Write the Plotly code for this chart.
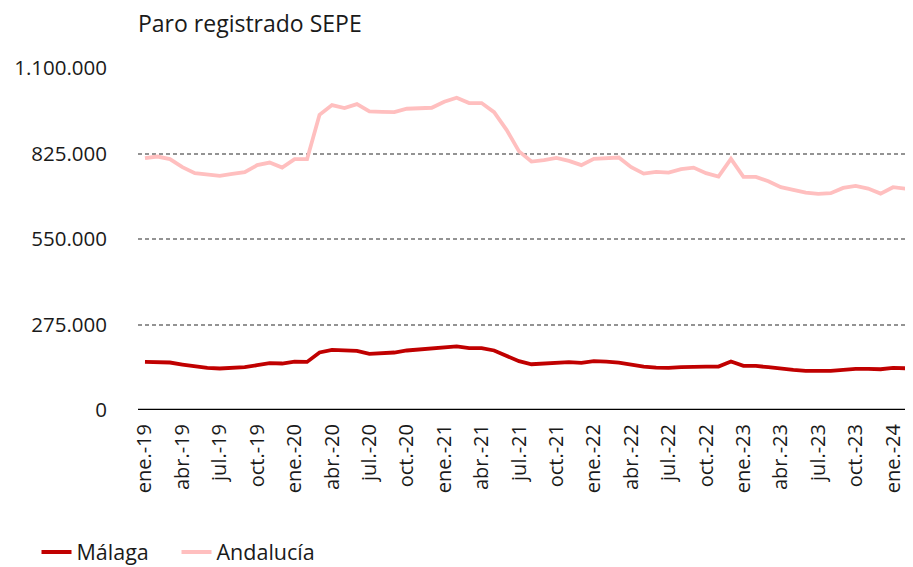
import plotly.graph_objects as go

months = ["ene.", "feb.", "mar.", "abr.", "may.", "jun.", "jul.", "ago.", "sep.", "oct.", "nov.", "dic."]
categories = [f"{m}-{y:02d}" for y in range(19, 25) for m in months][:63]

malaga = [
    154700, 154700, 152700, 146300, 139800, 135300, 133400, 135300, 137600, 144000, 150500, 149500,
    155900, 154700, 184900, 193300, 192400, 190100, 180400, 181700, 184900, 191400, 194600, 196500,
    202000, 204300, 198800, 198800, 191400, 173000, 157000, 147200, 149500, 152700, 153700, 151400,
    156900, 155900, 152700, 146300, 139800, 136600, 135300, 137600, 139800, 139800, 139800, 155900,
    141800, 141800, 137600, 132100, 128900, 125700, 124700, 125700, 128900, 132100, 132100, 131100,
    135300, 134400, 133000,
]
andalucia = [
    810000, 815200, 806800, 781000, 761700, 758500, 753000, 759400, 764900, 787500, 795800, 779700,
    806800, 806800, 949500, 980800, 971100, 984000, 960200, 959200, 958200, 968900, 969800, 972100,
    991400, 1004300, 987200, 987200, 958200, 901200, 831900, 799100, 803600, 811000, 801300, 787500,
    807800, 811000, 812000, 781000, 760400, 765900, 763600, 774600, 779700, 761700, 750700, 807800,
    749800, 749800, 735900, 716600, 708800, 699200, 695000, 697200, 714300, 720800, 712100, 696000,
    716600, 712100, 696600,
]
y_ticks = [0, 275000, 550000, 825000, 1100000]
y_tick_labels = ["0", "275.000", "550.000", "825.000", "1.100.000"]

x_idx = list(range(len(categories)))
tick_idx = x_idx[::3]
tick_txt = categories[::3]

# page has an 8px body margin; compensate so positions match the reference
OFF = 8
W, H = 913, 567
L, R, T, B = 138 - OFF, OFF, 68 - OFF, 157 + OFF
plot_w = W - L - R
plot_h = H - T - B

FONT = "Open Sans"
TXT = "#1a1a1a"
fig = go.Figure()
fig.add_trace(go.Scatter(x=x_idx, y=malaga, name="Málaga", mode="lines",
                         line=dict(color="#C00000", width=3.8)))
fig.add_trace(go.Scatter(x=x_idx, y=andalucia, name="Andalucía", mode="lines",
                         line=dict(color="#FFBFBF", width=3.8)))

fig.update_layout(
    width=W, height=H,
    margin=dict(l=L, r=R, t=T, b=B, autoexpand=False),
    paper_bgcolor="white", plot_bgcolor="white",
    font=dict(family=FONT, color=TXT, size=20),
    title=dict(text="Paro registrado SEPE", x=(138 - OFF) / W, xanchor="left",
               y=1 - (24 - OFF) / H, yanchor="middle",
               font=dict(size=23, family=FONT, color=TXT)),
    showlegend=True,
    legend=dict(orientation="h", x=(36.5 - OFF - L) / plot_w, xanchor="left",
                y=(T + plot_h - (552 - OFF)) / plot_h, yanchor="middle",
                font=dict(size=21.5, family=FONT, color=TXT),
                entrywidth=95, entrywidthmode="pixels"),
    xaxis=dict(range=[-0.56, 61.6], tickmode="array", tickvals=tick_idx, ticktext=tick_txt,
               tickangle=-90, showgrid=False, zeroline=False, showline=False, automargin=False,
               ticks="", ticklabelstandoff=9, tickfont=dict(size=20, family=FONT, color=TXT)),
    yaxis=dict(range=[0, 1100000], tickmode="array", tickvals=y_ticks, ticktext=y_tick_labels,
               showgrid=True, gridcolor="#939393", gridwidth=2.2, griddash="4px,3px",
               zeroline=False, showline=False, ticks="", ticklabelstandoff=30, automargin=False,
               tickfont=dict(size=20.5, family=FONT, color=TXT)),
)
# x-axis baseline at y=0
fig.add_shape(type="line", xref="paper", yref="y", x0=0, x1=1, y0=0, y1=0,
              line=dict(color="#000000", width=2.7), layer="above")

fig.write_html("out.html")
